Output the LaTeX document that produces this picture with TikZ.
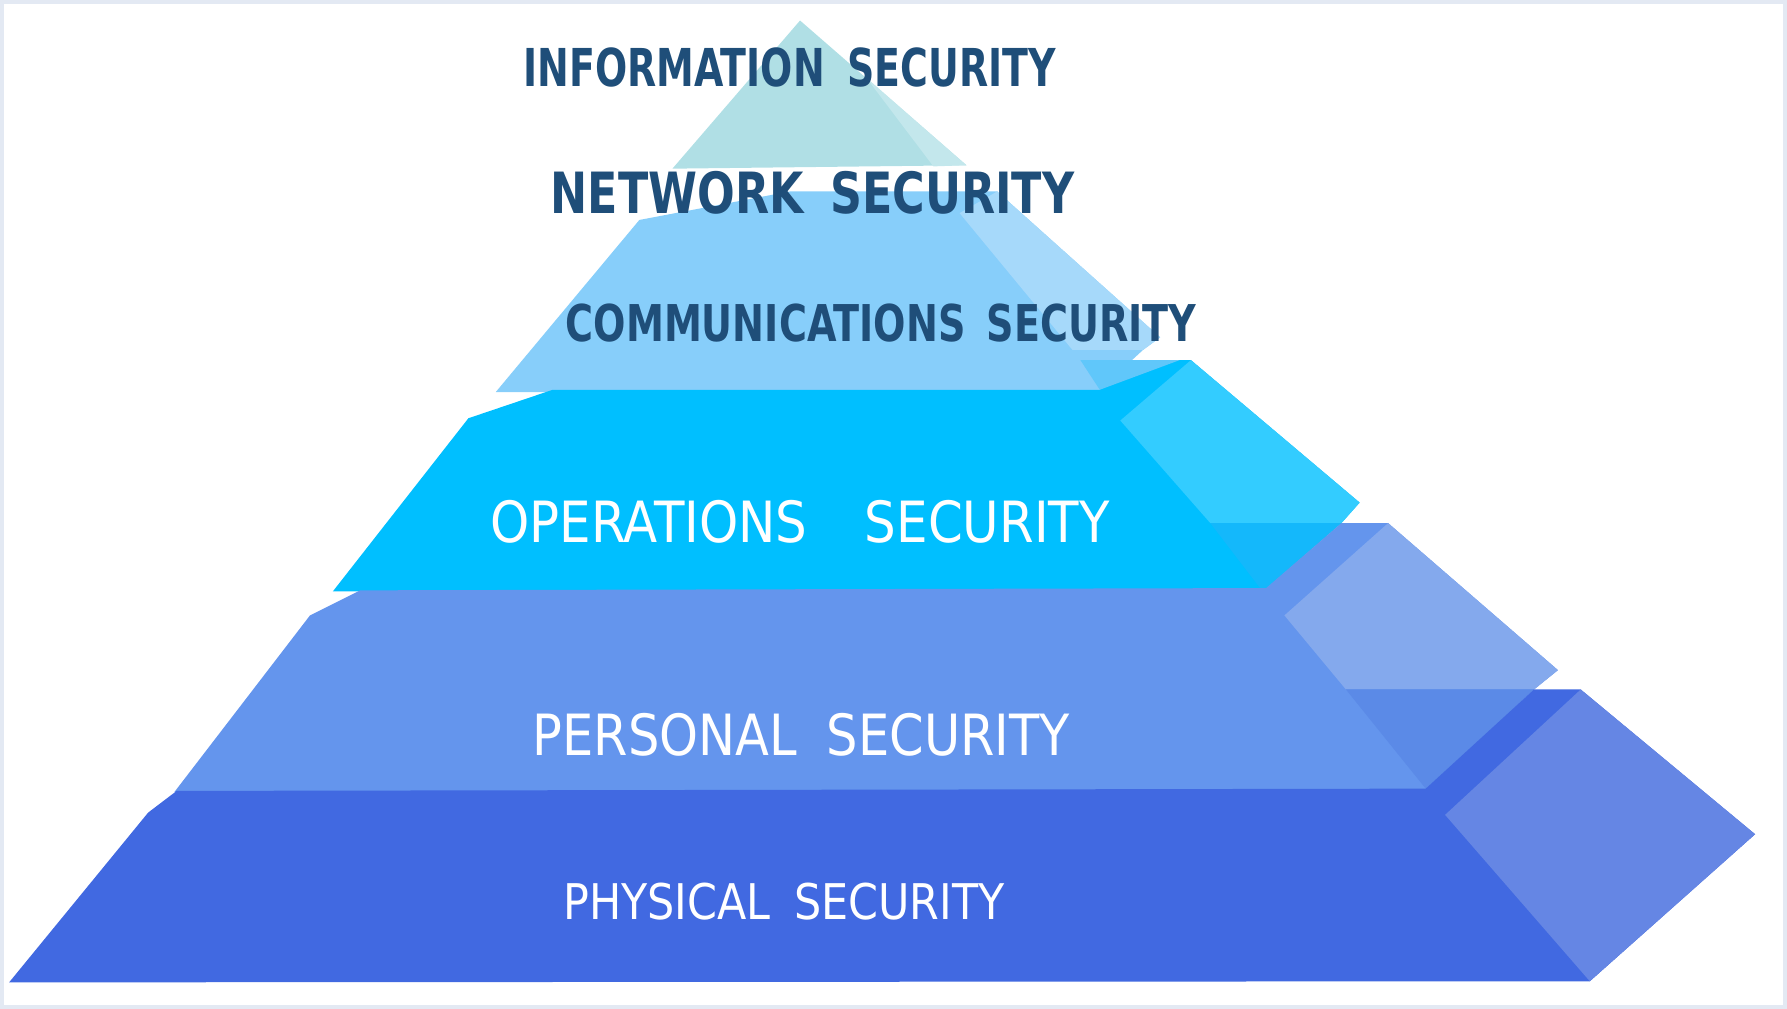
\documentclass[tikz,border=0pt]{standalone}
\usepackage{fontspec}
\setmainfont{DejaVu Sans}
\usepackage{graphicx}
\usetikzlibrary{positioning}

\definecolor{framegray}{HTML}{E3E9F3}
\definecolor{labeldark}{HTML}{1F4E79}
\definecolor{infofront}{HTML}{B0DFE5}
\definecolor{infoside}{HTML}{C3E7EC}
\definecolor{commfront}{HTML}{87CEFA}
\definecolor{commside}{HTML}{A6D9FA}
\definecolor{commmid}{HTML}{60C7FA}
\definecolor{opsfront}{HTML}{00BFFF}
\definecolor{opsside}{HTML}{33CCFF}
\definecolor{opsmid}{HTML}{14B8FB}
\definecolor{persfront}{HTML}{6495ED}
\definecolor{persside}{HTML}{84A9ED}
\definecolor{persmid}{HTML}{5B8AE7}
\definecolor{physfront}{HTML}{4169E1}
\definecolor{physside}{HTML}{6586E4}

\begin{document}
\begin{tikzpicture}[x=0.01cm, y=-0.01cm,
    darklbl/.style={anchor=base, inner sep=0pt, text=labeldark, font=\bfseries},
    lightlbl/.style={anchor=base, inner sep=0pt, text=white}]
  \useasboundingbox (0,0) rectangle (1568,885);
  \draw[framegray, line width=1.2pt] (1,1) rectangle (1567,884);

  \fill[infofront] (702,18) -- (590,148) -- (848,145) -- cycle;
  \fill[infoside] (760,68) -- (848,145) -- (819,146) -- cycle;

  \fill[commfront] (435,344) -- (561,193) -- (693,168) -- (875,168) -- (1018,296) -- (1003,307) -- (963,344) -- cycle;
  \fill[commside] (842,187) -- (875,168) -- (1018,296) -- (1003,307) -- (941,307) -- cycle;

  \fill[opsfront] (292,519) -- (411,367) -- (485,342) -- (965,342) -- (993,316) -- (1045,316) -- (1193,441) -- (1177,459) -- (1108,519) -- cycle;
  \fill[commmid] (948,316) -- (1035,316) -- (965,342) -- cycle;
  \fill[opsside] (983,369) -- (1045,316) -- (1193,441) -- (1177,459) -- (1062,459) -- cycle;
  \fill[opsmid] (1062,459) -- (1177,459) -- (1108,519) -- cycle;

  \fill[persfront] (153,695) -- (272,540) -- (316,518) -- (1111,516) -- (1177,459) -- (1218,459) -- (1367,588) -- (1346,605) -- (1253,695) -- cycle;
  \fill[persside] (1127,540) -- (1218,459) -- (1367,588) -- (1346,605) -- (1181,605) -- cycle;
  \fill[persmid] (1181,605) -- (1346,605) -- (1251,692) -- cycle;

  \fill[physfront] (8,862) -- (130,713) -- (155,694) -- (1251,692) -- (1346,605) -- (1387,605) -- (1540,732) -- (1395,861) -- cycle;
  \fill[physside] (1268,715) -- (1387,605) -- (1540,732) -- (1395,861) -- cycle;

  \node[darklbl] (info) at (693,76) {\resizebox{4.67cm}{0.34cm}{INFORMATION\hspace{0.6em}SECURITY}};
  \node[darklbl] (net) at (713,187) {\resizebox{4.59cm}{0.37cm}{NETWORK\hspace{0.6em}SECURITY}};
  \node[darklbl] (comm) at (773,300) {\resizebox{5.53cm}{0.33cm}{COMMUNICATIONS\hspace{0.55em}SECURITY}};
  \node[lightlbl] (ops) at (702,476) {\resizebox{5.43cm}{0.37cm}{OPERATIONS\hspace{1.15em}SECURITY}};
  \node[lightlbl] (pers) at (703,663) {\resizebox{4.71cm}{0.37cm}{PERSONAL\hspace{0.6em}SECURITY}};
  \node[lightlbl] (phys) at (688,807) {\resizebox{3.87cm}{0.32cm}{PHYSICAL\hspace{0.55em}SECURITY}};
\end{tikzpicture}
\end{document}
